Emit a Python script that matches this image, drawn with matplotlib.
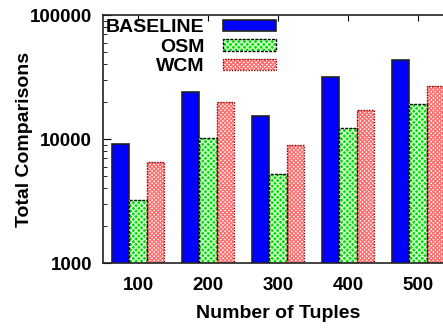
import numpy as np
import matplotlib
matplotlib.use('Agg')
import matplotlib.pyplot as plt
from matplotlib.legend_handler import HandlerTuple

plt.rcParams['font.family'] = ['Liberation Sans', 'DejaVu Sans']
plt.rcParams['font.weight'] = 'bold'
plt.rcParams['hatch.linewidth'] = 1.0

tuples = ['100', '200', '300', '400', '500']
baseline = [9100, 23900, 15400, 31600, 43200]
osm = [3220, 10100, 5220, 12300, 19100]
wcm = [6490, 19800, 8890, 17200, 26700]

fig = plt.figure(figsize=(4.43, 3.30), dpi=100)
ax = fig.add_axes([103 / 443, 67 / 330, 350 / 443, 248 / 330])

x = np.arange(1, len(tuples) + 1)
w = 0.25

# blue solid
b_base = ax.bar(x - w, baseline, w, bottom=1, color='#0000ff', edgecolor='#222222',
                linewidth=1.2, zorder=2)

# green pattern: fill + light hatch, then dashed outline
b_osm = ax.bar(x, osm, w, bottom=1, color='#00dd00', edgecolor='#d0ffd0',
               hatch='xxxxxx', linewidth=0, zorder=2)
e_osm = ax.bar(x, osm, w, bottom=1, fill=False, edgecolor='black', linestyle=(0, (2, 1)),
               linewidth=1.0, zorder=3)

# red dotted pattern on white
b_wcm = ax.bar(x + w, wcm, w, bottom=1, color='white', edgecolor='#ff7070',
               hatch='xxxxxxxx', linewidth=0, zorder=2)
e_wcm = ax.bar(x + w, wcm, w, bottom=1, fill=False, edgecolor='#880000', linestyle=(0, (1, 1)),
               linewidth=1.0, zorder=3)

ax.set_yscale('log')
ax.set_ylim(1000, 100000)
ax.set_xlim(0.5, 5.5)
ax.set_xticks(x)
ax.set_xticklabels(tuples)
ax.set_yticks([1000, 10000, 100000])
ax.set_yticklabels(['1000', '10000', '100000'])

ax.tick_params(axis='both', which='both', direction='in', top=True, right=True)
ax.tick_params(axis='y', which='major', length=6, pad=8, labelsize=13.5)
ax.tick_params(axis='y', which='minor', length=3)
ax.tick_params(axis='x', which='major', length=4, pad=10, labelsize=13.5)
for s in ax.spines.values():
    s.set_linewidth(1.2)
    s.set_color('#222222')

ax.set_xlabel('Number of Tuples', fontsize=14, fontweight='bold', labelpad=8)
ax.set_ylabel('Total Comparisons', fontsize=14, fontweight='bold')
ax.yaxis.set_label_coords(-0.2, 0.5)

handles = [b_base, (b_osm, e_osm), (b_wcm, e_wcm)]
leg = ax.legend(handles, ['BASELINE', 'OSM', 'WCM'],
                handler_map={tuple: HandlerTuple(ndivide=1)},
                loc='upper left', bbox_to_anchor=(0.008, 0.983), markerfirst=False,
                frameon=False, fontsize=14, handlelength=2.73, handleheight=0.52,
                handletextpad=0.93, labelspacing=0.13, borderpad=0.0,
                borderaxespad=0.0)
for t in leg.get_texts():
    t.set_fontweight('bold')

fig.savefig('out.png', dpi=100)
